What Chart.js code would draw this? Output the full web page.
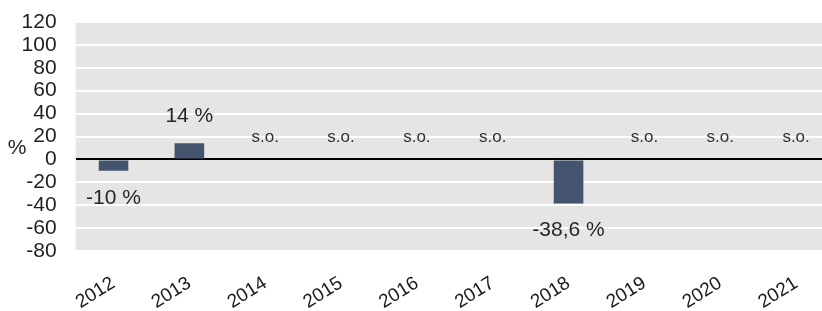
<!DOCTYPE html>
<html>
<head>
<meta charset="utf-8">
<script src="https://cdn.jsdelivr.net/npm/chart.js@4"></script>
<style>
  html, body { margin: 0; padding: 0; background: #fff; overflow: hidden; }
  #wrap { width: 822px; height: 311px; overflow: hidden; }
</style>
</head>
<body>
<div id="wrap"><canvas id="graf" width="834" height="311"></canvas></div>
<script>
const annees = ["2012", "2013", "2014", "2015", "2016", "2017", "2018", "2019", "2020", "2021"];
const variation = [-10, 14, null, null, null, null, -38.6, null, null, null];
const tickValeurs = [120, 100, 80, 60, 40, 20, 0, -20, -40, -60, -80];

const police = "'Liberation Sans', Arial, sans-serif";

function etiquette(v) {
  if (v === null) return "s.o.";
  return String(v).replace(".", ",") + " %";
}

// fond gris de la zone du graphique
const fond = {
  id: "fond",
  beforeDraw(chart) {
    const a = chart.chartArea;
    const c = chart.ctx;
    c.save();
    c.fillStyle = "#e5e5e5";
    c.fillRect(a.left, a.top, a.right - a.left, a.bottom - a.top);
    c.restore();
  }
};

// etiquettes de valeurs + "%" de l'axe
const textes = {
  id: "textes",
  afterDatasetsDraw(chart) {
    const c = chart.ctx;
    const meta = chart.getDatasetMeta(0);
    const y = chart.scales.y;
    const zero = y.getPixelForValue(0);
    c.save();
    c.textAlign = "center";
    c.textBaseline = "middle";
    variation.forEach((v, i) => {
      const x = chart.scales.x.getPixelForValue(i);
      if (v === null) {
        c.font = "17px " + police;
        c.fillStyle = "#333";
        c.fillText("s.o.", x, zero - 22);
      } else {
        const bar = meta.data[i];
        c.font = "21px " + police;
        c.fillStyle = "#262626";
        const yy = v < 0 ? bar.y + 27 : bar.y - 27;
        c.fillText(etiquette(v), x, yy);
      }
    });
    c.font = "21px " + police;
    c.fillStyle = "#222";
    c.fillText("%", 17, y.getPixelForValue(10));
    c.restore();
  }
};

const ctx = document.getElementById("graf").getContext("2d");
new Chart(ctx, {
  type: "bar",
  data: {
    labels: annees,
    datasets: [{
      data: variation,
      backgroundColor: "#44546e",
      borderWidth: 0,
      categoryPercentage: 0.39,
      barPercentage: 1
    }]
  },
  options: {
    responsive: false,
    animation: false,
    layout: { padding: { top: 22, right: 0, left: 0, bottom: 0 } },
    plugins: {
      legend: { display: false },
      tooltip: { enabled: false }
    },
    scales: {
      x: {
        grid: { display: false },
        border: { display: false },
        ticks: {
          color: "#1a1a1a",
          font: { family: police, size: 19 },
          minRotation: 32,
          maxRotation: 32,
          padding: 13
        },
        afterFit(scale) {
          scale.height = 60;
          scale.paddingLeft = 0;
          scale.paddingRight = 0;
        }
      },
      y: {
        min: -80,
        max: 120,
        border: { display: false },
        grid: {
          color: (c) => c.tick && c.tick.value === 0 ? "#000" : "#fff",
          lineWidth: 2,
          drawTicks: false
        },
        afterBuildTicks(scale) {
          scale.ticks = tickValeurs.map(v => ({ value: v }));
        },
        ticks: {
          autoSkip: false,
          color: "#1f1f1f",
          font: { family: police, size: 21 },
          padding: 19
        },
        afterFit(scale) {
          scale.width = 75.6;
          scale.paddingTop = 0;
          scale.paddingBottom = 0;
        }
      }
    }
  },
  plugins: [fond, textes]
});
</script>
</body>
</html>
